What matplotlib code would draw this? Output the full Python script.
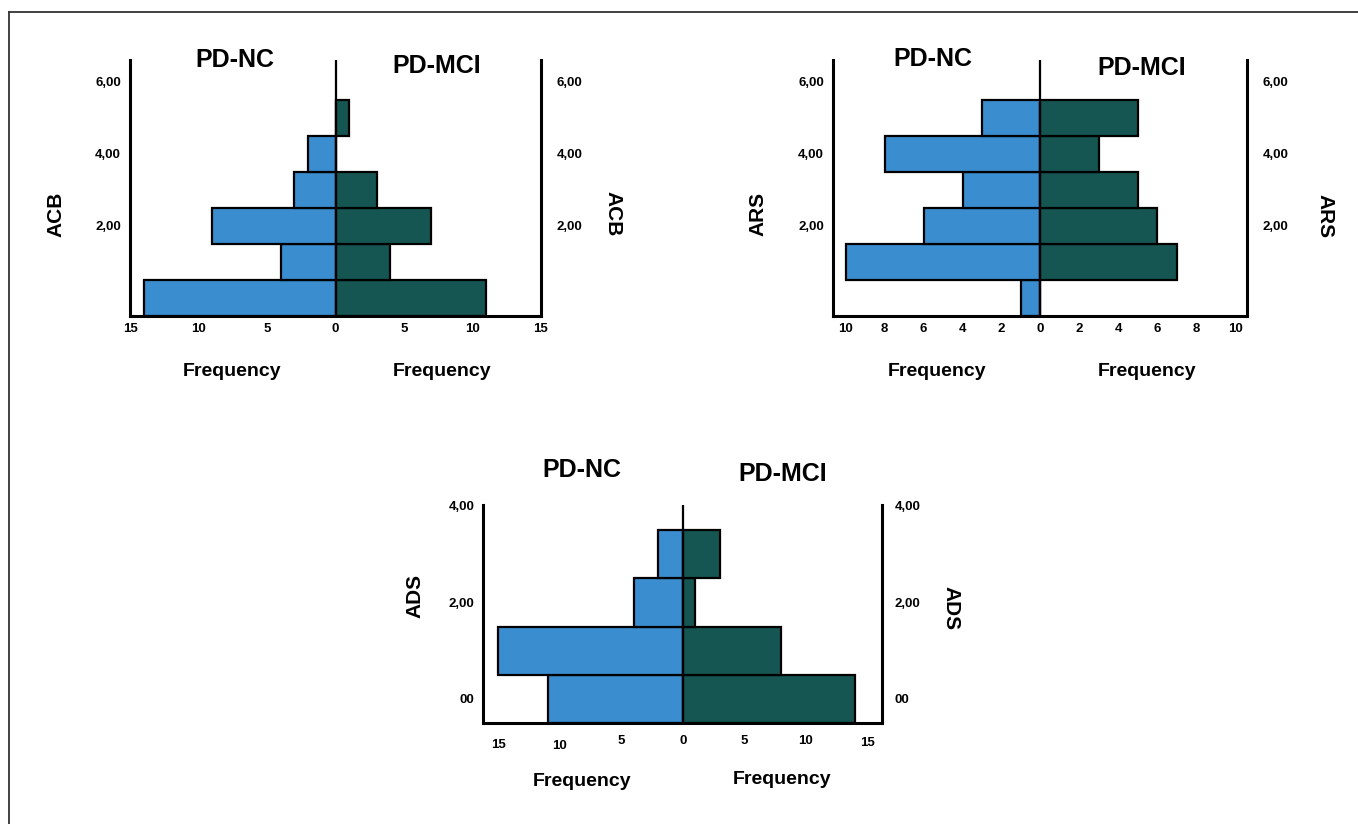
import matplotlib
matplotlib.use("Agg")
import matplotlib.pyplot as plt
from matplotlib.lines import Line2D
from matplotlib.transforms import ScaledTranslation

plt.rcParams['font.family'] = ['Liberation Sans', 'DejaVu Sans']
plt.rcParams['font.weight'] = 'bold'

W, H = 1358, 824

# ---- data ----
acb_bins = [0, 1, 2, 3, 4, 5]
acb_nc = [14, 4, 9, 3, 2, 0]
acb_mci = [11, 4, 7, 3, 0, 1]

ars_bins = [0, 1, 2, 3, 4, 5]
ars_nc = [1, 10, 6, 4, 8, 3]
ars_mci = [0, 7, 6, 5, 3, 5]

ads_bins = [0, 1, 2, 3]
ads_nc = [11, 15, 4, 2]
ads_mci = [14, 8, 1, 3]

acb_yticks = [2, 4, 6]
acb_ylabels = ["2,00", "4,00", "6,00"]
ars_yticks = [2, 4, 6]
ars_ylabels = ["2,00", "4,00", "6,00"]
ads_yticks = [0, 2, 4]
ads_ylabels = ["00", "2,00", "4,00"]

acb_xticks = [-15, -10, -5, 0, 5, 10, 15]
ars_xticks = [-10, -8, -6, -4, -2, 0, 2, 4, 6, 8, 10]
ads_xticks = [-15, -10, -5, 0, 5, 10, 15]

BLUE = '#3A8ED0'
DARK = '#165652'

fig = plt.figure(figsize=(W / 100, H / 100), dpi=100)
fig.patch.set_facecolor('white')


def panel(box, xlim, ylim, bins, nc, mci, xticks, yticks, ylabels,
          lpad, rpad, xpad):
    x0, y0, x1, y1 = box
    ax = fig.add_axes([x0 / W, 1 - y1 / H, (x1 - x0) / W, (y1 - y0) / H])
    ax.barh(bins, [-v for v in nc], height=1, color=BLUE,
            edgecolor='black', linewidth=1.6, zorder=2)
    ax.barh(bins, mci, height=1, color=DARK,
            edgecolor='black', linewidth=1.6, zorder=2)
    ax.axvline(0, color='black', lw=1.6, zorder=3)
    ax.set_xlim(*xlim)
    ax.set_ylim(*ylim)
    ax.spines['top'].set_visible(False)
    for s in ['left', 'right', 'bottom']:
        ax.spines[s].set_linewidth(2.2)
    ax.set_xticks(xticks)
    ax.set_xticklabels([str(abs(t)) for t in xticks])
    ax.tick_params(axis='x', length=0, pad=xpad, labelsize=9.5)
    ax.set_yticks(yticks)
    ax.set_yticklabels(ylabels)
    ax.tick_params(axis='y', length=0, pad=lpad, labelsize=9.5)
    ax2 = ax.twinx()
    ax2.set_ylim(*ylim)
    ax2.set_yticks(yticks)
    ax2.set_yticklabels(ylabels)
    ax2.tick_params(axis='y', length=0, pad=rpad, labelsize=9.5)
    for s in ax2.spines.values():
        s.set_visible(False)
    return ax


def txt(x, y, s, size, rot=0):
    fig.text(x / W, 1 - y / H, s, ha='center', va='center', fontsize=size,
             fontweight='bold', rotation=rot)


# Panel ACB
panel((130, 60, 541, 316), (-15, 15), (-0.5, 6.6), acb_bins, acb_nc, acb_mci,
      acb_xticks, acb_yticks, acb_ylabels, 6.5, 11, 5)
txt(235, 60, "PD-NC", 18)
txt(437, 66, "PD-MCI", 18)
txt(232, 371, "Frequency", 14)
txt(442, 371, "Frequency", 14)
txt(56, 214, "ACB", 15, 90)
txt(613, 214, "ACB", 15, -90)

# Panel ARS
panel((833, 60, 1247, 316), (-10.65, 10.6), (-0.5, 6.6), ars_bins, ars_nc, ars_mci,
      ars_xticks, ars_yticks, ars_ylabels, 6.5, 11, 5)
txt(933, 59, "PD-NC", 18)
txt(1142, 68, "PD-MCI", 18)
txt(937, 371, "Frequency", 14)
txt(1147, 371, "Frequency", 14)
txt(758, 214, "ARS", 15, 90)
txt(1325, 216, "ARS", 15, -90)

# Panel ADS
ax3 = panel((483, 505, 882, 723), (-16.25, 16.2), (-0.5, 4.02), ads_bins, ads_nc, ads_mci,
            ads_xticks, ads_yticks, ads_ylabels, 6, 9, 9)
# slight vertical jitter of the left-most tick labels, as in the original
for lab, dy in zip(ax3.get_xticklabels(), [3, 4.5, 0, 0, 0, 0, 1]):
    lab.set_transform(lab.get_transform() +
                      ScaledTranslation(0, -dy / 100, fig.dpi_scale_trans))
txt(582, 470, "PD-NC", 18)
txt(783, 474, "PD-MCI", 18)
txt(582, 782, "Frequency", 14)
txt(782, 779, "Frequency", 14)
txt(415, 596, "ADS", 15, 90)
txt(951, 608, "ADS", 15, -90)

# outer frame (top and left)
fig.add_artist(Line2D([9 / W, 1], [1 - 12 / H, 1 - 12 / H], color='#333333',
                      lw=1.3, transform=fig.transFigure))
fig.add_artist(Line2D([9 / W, 9 / W], [0, 1 - 12 / H], color='#333333',
                      lw=1.3, transform=fig.transFigure))

fig.savefig("out.png", dpi=100, facecolor='white')
